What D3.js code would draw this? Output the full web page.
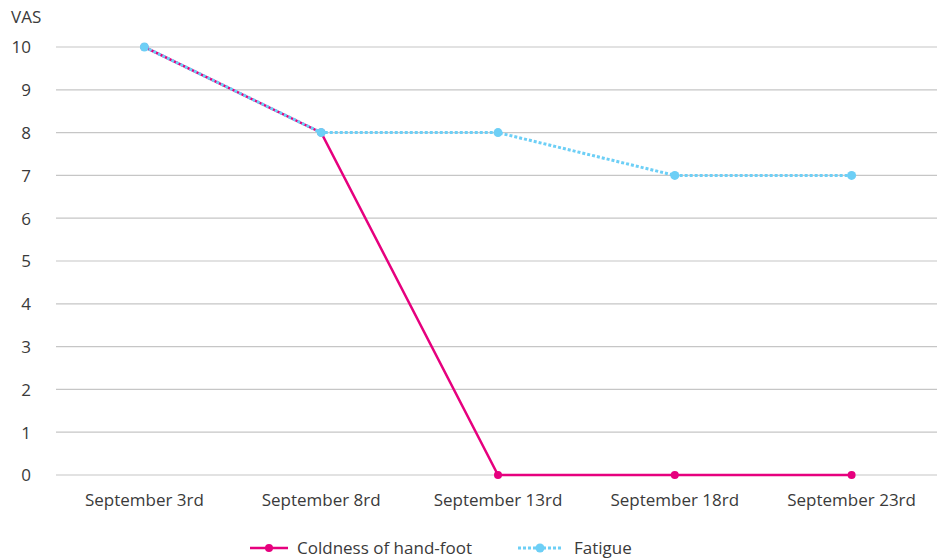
<!DOCTYPE html>
<html><head><meta charset="utf-8">
<script src="https://cdn.jsdelivr.net/npm/d3@7"></script>
<style>body{margin:0;background:#fff}svg{display:block}text{font-family:"Open Sans","Noto Sans",sans-serif;fill:#3a3a3a}</style>
</head><body><svg id="c" width="937" height="560"></svg>
<script>
const categories = ["September 3rd","September 8rd","September 13rd","September 18rd","September 23rd"];
const coldness = [10, 8, 0, 0, 0];
const fatigue = [10, 8, 8, 7, 7];
const yTicks = [0,1,2,3,4,5,6,7,8,9,10];
const seriesNames = ["Coldness of hand-foot","Fatigue"];
const colors = ["#e6007e","#6dcff6"];
const FS = "17px";

const svg = d3.select("#c");
const x = d3.scaleBand().domain(categories).range([56, 940]);
const y = d3.scaleLinear().domain([0,10]).range([475, 47]);
const cx = d => x(d) + x.bandwidth()/2;

// grid
svg.append("g").selectAll("line").data(yTicks).join("line")
  .attr("x1",56).attr("x2",937).attr("y1",d=>y(d)).attr("y2",d=>y(d))
  .attr("stroke","#c6c6c6").attr("stroke-width",1.2);

// y axis labels
const ya = svg.append("g").attr("transform","translate(31,0)")
  .call(d3.axisLeft(y).tickValues(yTicks).tickSize(0).tickPadding(0));
ya.select(".domain").remove();
ya.selectAll("text").style("font-size",FS).attr("fill","#3a3a3a").attr("dy","0.35em");

svg.append("text").attr("x",11).attr("y",17).attr("dy","0.35em").style("font-size",FS).text("VAS");

// x axis labels
const xa = svg.append("g").attr("transform","translate(0,475)")
  .call(d3.axisBottom(x).tickSize(0).tickPadding(0));
xa.select(".domain").remove();
xa.selectAll("text").style("font-size",FS).attr("fill","#3a3a3a").attr("y",25).attr("dy","0.35em");

const line = d3.line().x((d,i)=>cx(categories[i])).y(d=>y(d));

// coldness
svg.append("path").datum(coldness).attr("d",line).attr("fill","none")
  .attr("stroke",colors[0]).attr("stroke-width",2.5);
svg.append("g").selectAll("circle").data(coldness).join("circle")
  .attr("cx",(d,i)=>cx(categories[i])).attr("cy",d=>y(d)).attr("r",4).attr("fill",colors[0]);

// fatigue
svg.append("path").datum(fatigue).attr("d",line).attr("fill","none")
  .attr("stroke",colors[1]).attr("stroke-width",3).attr("stroke-dasharray","3,2");
svg.append("g").selectAll("circle").data(fatigue).join("circle")
  .attr("cx",(d,i)=>cx(categories[i])).attr("cy",d=>y(d)).attr("r",4.5).attr("fill",colors[1]);

// legend
const lg = svg.append("g");
const legendItems = [
  {x1:250,x2:288,dot:269,tx:297,dash:null,w:2.5,r:4},
  {x1:518,x2:563,dot:540,tx:574,dash:"3,2",w:3,r:4.5}
];
legendItems.forEach((it,i)=>{
  lg.append("line").attr("x1",it.x1).attr("x2",it.x2).attr("y1",548).attr("y2",548)
    .attr("stroke",colors[i]).attr("stroke-width",it.w).attr("stroke-dasharray",it.dash);
  lg.append("circle").attr("cx",it.dot).attr("cy",548).attr("r",it.r).attr("fill",colors[i]);
  lg.append("text").attr("x",it.tx).attr("y",548).attr("dy","0.35em").style("font-size",FS).text(seriesNames[i]);
});
</script></body></html>
